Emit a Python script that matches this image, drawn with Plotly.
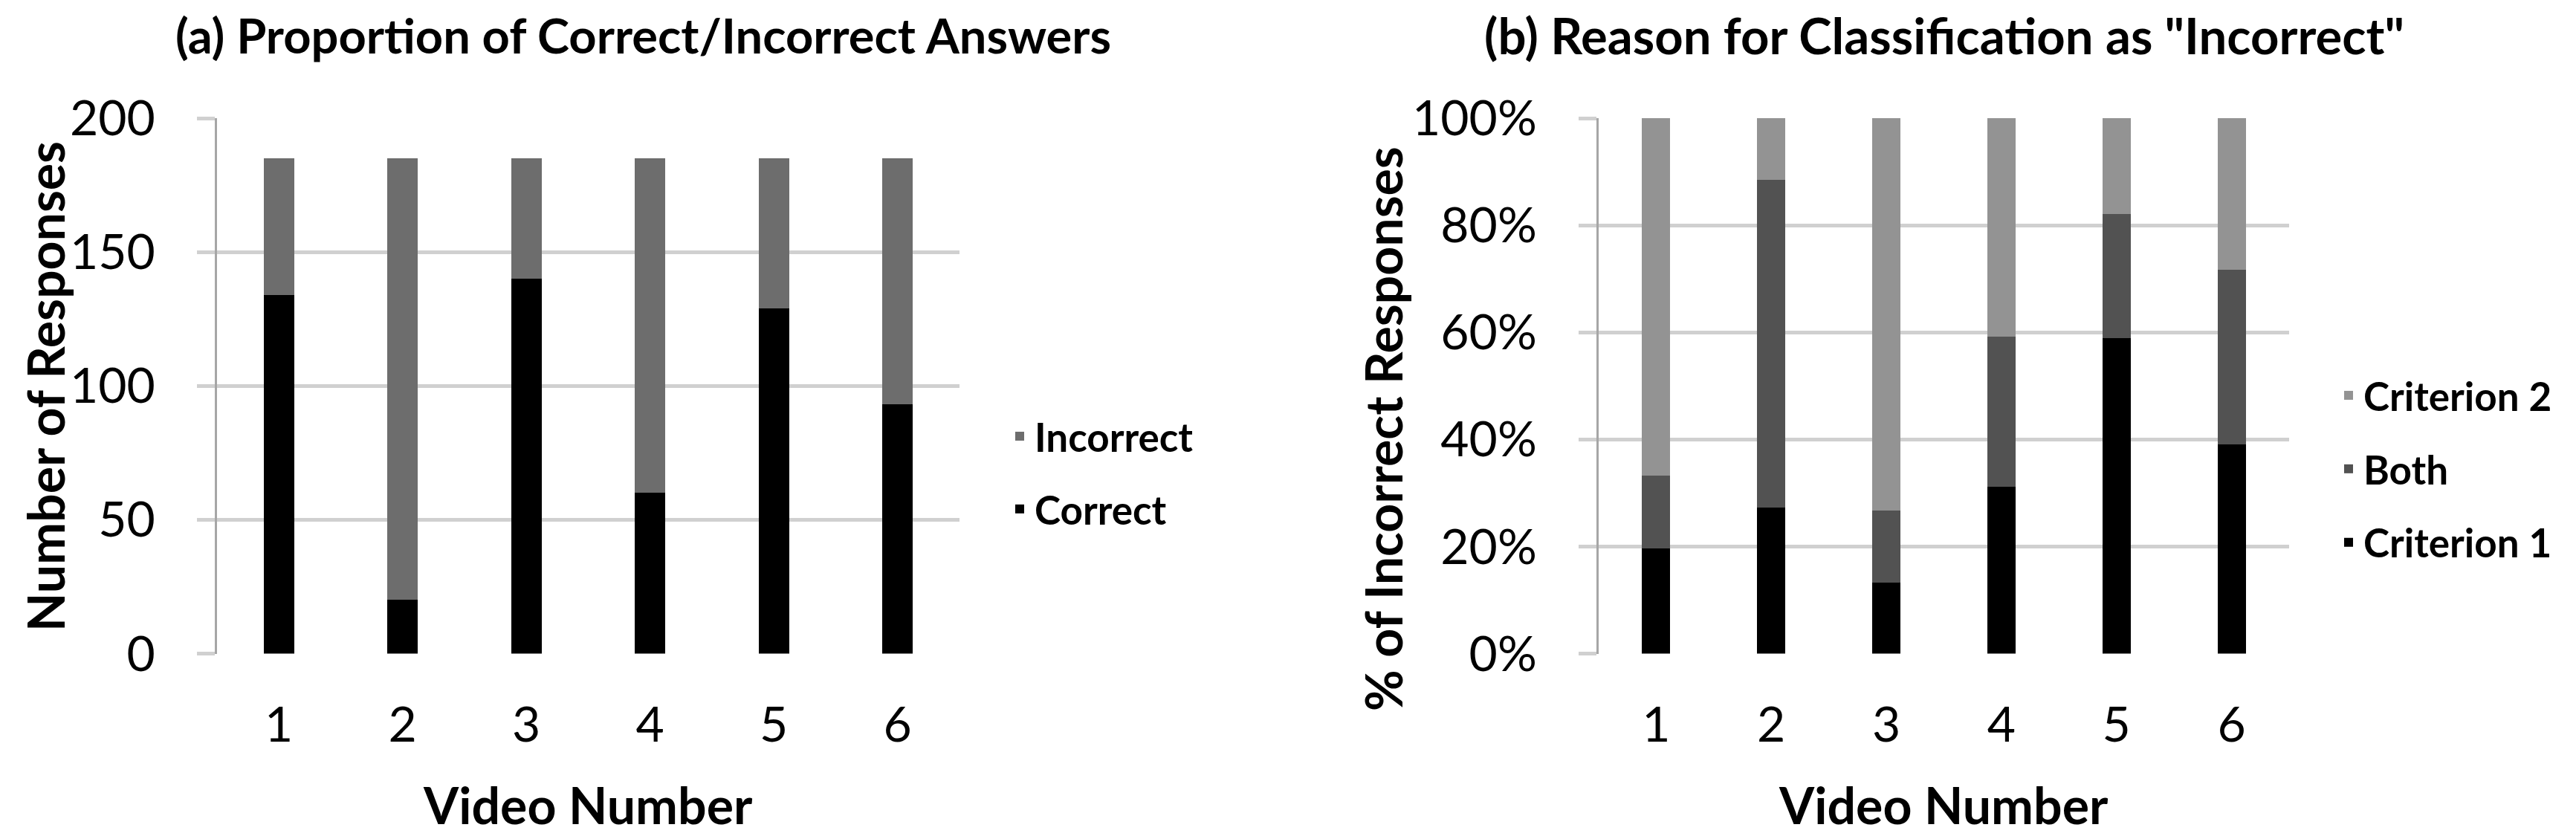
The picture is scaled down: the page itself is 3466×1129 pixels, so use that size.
import plotly.graph_objects as go

W, H = 3466, 1129

videos = ["1", "2", "3", "4", "5", "6"]
correct = [134, 20, 140, 60, 129, 93]
incorrect = [51, 165, 45, 125, 56, 92]

crit1_pct = [19.6, 27.3, 13.3, 31.2, 58.9, 39.1]
both_pct = [13.7, 61.2, 13.4, 28.0, 23.2, 32.6]
crit2_pct = [66.7, 11.5, 73.3, 40.8, 17.9, 28.3]

left_ticks = [0, 50, 100, 150, 200]
right_ticks = [0, 20, 40, 60, 80, 100]
right_tick_text = ["0%", "20%", "40%", "60%", "80%", "100%"]

FONT = "Lato"
C_CORRECT = "#000000"
C_INCORRECT = "#6d6d6d"
C_CRIT1 = "#000000"
C_BOTH = "#525252"
C_CRIT2 = "#939393"
GRID = "#d0d0d0"
AXLINE = "#a6a6a6"
BARW = 0.245

def px(x):
    return x / W

def py(y):
    return 1 - y / H

fig = go.Figure()

fig.add_trace(go.Bar(x=videos, y=correct, name="Correct", marker_color=C_CORRECT,
                     width=BARW, xaxis="x", yaxis="y", legend="legend",
                     legendgroup="c", legendrank=2))
fig.add_trace(go.Bar(x=videos, y=incorrect, name="Incorrect", marker_color=C_INCORRECT,
                     width=BARW, xaxis="x", yaxis="y", legend="legend",
                     legendgroup="i", legendrank=1))

fig.add_trace(go.Bar(x=videos, y=crit1_pct, name="Criterion 1", marker_color=C_CRIT1,
                     width=BARW, xaxis="x2", yaxis="y2", legend="legend2",
                     legendgroup="c1", legendrank=3))
fig.add_trace(go.Bar(x=videos, y=both_pct, name="Both", marker_color=C_BOTH,
                     width=BARW, xaxis="x2", yaxis="y2", legend="legend2",
                     legendgroup="b", legendrank=2))
fig.add_trace(go.Bar(x=videos, y=crit2_pct, name="Criterion 2", marker_color=C_CRIT2,
                     width=BARW, xaxis="x2", yaxis="y2", legend="legend2",
                     legendgroup="c2", legendrank=1))

ydom = [py(879.5), py(159)]

xaxis_common = dict(
    type="category", showgrid=False, zeroline=False, showline=False, ticks="",
    automargin=False,
    tickfont=dict(family=FONT, size=66, color="#000000"), ticklabelstandoff=51,
)
yaxis_common = dict(
    showgrid=True, gridcolor=GRID, gridwidth=5, zeroline=False,
    showline=True, linecolor=AXLINE, linewidth=3, automargin=False,
    ticks="outside", ticklen=24, tickwidth=5, tickcolor=GRID,
    tickfont=dict(family=FONT, size=66, color="#000000"), ticklabelstandoff=43,
)

fig.update_layout(
    template="none",
    width=W, height=H,
    margin=dict(l=0, r=0, t=0, b=0, pad=0, autoexpand=False),
    paper_bgcolor="white", plot_bgcolor="white",
    barmode="stack",
    xaxis=dict(domain=[px(292), px(1291)], anchor="y", range=[-0.5, 5.5], **xaxis_common),
    yaxis=dict(domain=ydom, anchor="x", range=[0, 200], tickmode="array",
               tickvals=left_ticks, **yaxis_common),
    xaxis2=dict(domain=[px(2151), px(3080)], anchor="y2", range=[-0.5, 5.5], **xaxis_common),
    yaxis2=dict(domain=ydom, anchor="x2", range=[0, 100], tickmode="array",
                tickvals=right_ticks, ticktext=right_tick_text, **yaxis_common),
    legend=dict(x=px(1352), y=py(546), xanchor="left", yanchor="top",
                traceorder="grouped", tracegroupgap=26,
                font=dict(family=FONT, size=53, color="#000000", weight="bold"),
                bgcolor="rgba(0,0,0,0)", borderwidth=0, itemwidth=30),
    legend2=dict(x=px(3140), y=py(491), xanchor="left", yanchor="top",
                 traceorder="grouped", tracegroupgap=27,
                 font=dict(family=FONT, size=53, color="#000000", weight="bold"),
                 bgcolor="rgba(0,0,0,0)", borderwidth=0, itemwidth=30),
    showlegend=True,
)

title_font = dict(family=FONT, size=65, color="#000000", weight="bold")
title_font_b = dict(family=FONT, size=67, color="#000000", weight="bold")
axis_title_font = dict(family=FONT, size=68, color="#000000", weight="bold")

annotations = [
    dict(text="(a) Proportion of Correct/Incorrect Answers", x=px(865), y=py(47),
         font=title_font),
    dict(text="(b) Reason for Classification as \"Incorrect\"", x=px(2616), y=py(47),
         font=title_font_b),
    dict(text="Number of Responses", x=px(60), y=py(520), textangle=-90, font=axis_title_font),
    dict(text="% of Incorrect Responses", x=px(1860), y=py(577), textangle=-90, font=axis_title_font),
    dict(text="Video Number", x=px(791), y=py(1082), font=axis_title_font),
    dict(text="Video Number", x=px(2615), y=py(1082), font=axis_title_font),
]
for a in annotations:
    a.update(xref="paper", yref="paper", xanchor="center", yanchor="middle", showarrow=False)
fig.update_layout(annotations=annotations)

fig.write_html(
    "out.html",
    config={"displayModeBar": False},
    post_script="document.body.style.margin='0';document.body.style.overflow='hidden';",
)
